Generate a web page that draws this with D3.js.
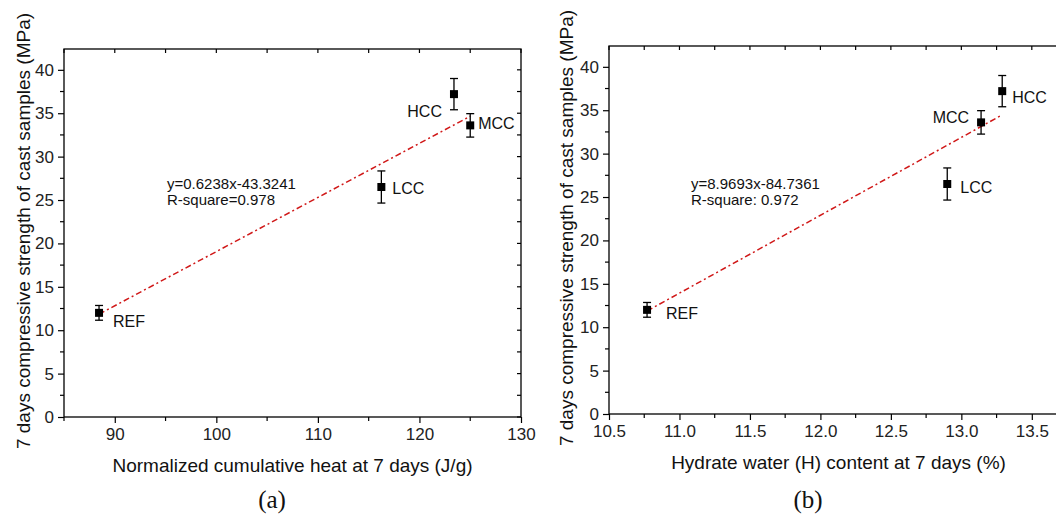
<!DOCTYPE html>
<html>
<head>
<meta charset="utf-8">
<script src="https://cdn.jsdelivr.net/npm/d3@7"></script>
<style>
  body { margin: 0; background: #fff; }
  svg { display: block; font-family: Arial, "Liberation Sans", sans-serif; }
</style>
</head>
<body>
<div id="chart"></div>
<script>
// sample names and 7-day strengths (shared by both panels)
const samples = ['REF', 'LCC', 'MCC', 'HCC']
const strength = [12.0, 26.5, 33.6, 37.2]
const strengthErr = [0.85, 1.85, 1.35, 1.8]

// panel (a): normalized cumulative heat
const heat = [88.45, 116.25, 125.0, 123.4]
const heatTicks = [90, 100, 110, 120, 130]
const heatFit = {slope: 0.6238, intercept: -43.3241}
const heatEq = ['y=0.6238x-43.3241', 'R-square=0.978']

// panel (b): hydrate water content
const water = [10.77, 12.9, 13.14, 13.29]
const waterTicks = [10.5, 11.0, 11.5, 12.0, 12.5, 13.0, 13.5]
const waterFit = {slope: 8.9693, intercept: -84.7361}
const waterEq = ['y=8.9693x-84.7361', 'R-square: 0.972']

const yTicks = [0, 5, 10, 15, 20, 25, 30, 35, 40]
const yTitle = '7 days compressive strength of cast samples (MPa)'

const width = 1056, height = 517

const svg = d3.select('#chart').append('svg')
    .attr('width', width)
    .attr('height', height)

function drawPanel(cfg) {
    const g = svg.append('g')
    const x = d3.scaleLinear().domain(cfg.xDomain).range([cfg.left, cfg.right])
    const y = d3.scaleLinear().domain([0, 42.4]).range([cfg.bottom, cfg.top])

    // minor steps
    const xMinor = d3.range(cfg.xDomain[0], cfg.xDomain[1] + 1e-9, cfg.xStep / 2)
    const yMinor = d3.range(0, 42.4, 2.5)

    // bottom axis
    const xAxis = d3.axisBottom(x).tickValues(cfg.xTicks).tickSize(6).tickPadding(5)
        .tickFormat(cfg.xFormat)
    const xg = g.append('g').attr('transform', `translate(0,${cfg.bottom})`).call(xAxis)
    xg.select('.domain').remove()
    g.append('g').selectAll('line').data(xMinor.filter(v => !cfg.xTicks.some(t => Math.abs(t - v) < 1e-6)))
        .join('line')
        .attr('x1', d => x(d)).attr('x2', d => x(d))
        .attr('y1', cfg.bottom).attr('y2', cfg.bottom + 4)
        .attr('stroke', '#000').attr('stroke-width', 1.2)

    // left axis
    const yAxis = d3.axisLeft(y).tickValues(yTicks).tickSize(6).tickPadding(4)
    const yg = g.append('g').attr('transform', `translate(${cfg.left},0)`).call(yAxis)
    yg.select('.domain').remove()
    g.append('g').selectAll('line').data(yMinor.filter(v => v % 5 !== 0))
        .join('line')
        .attr('x1', cfg.left - 4).attr('x2', cfg.left)
        .attr('y1', d => y(d)).attr('y2', d => y(d))
        .attr('stroke', '#000').attr('stroke-width', 1.2)

    g.selectAll('.tick line').attr('stroke-width', 1.2)
    g.selectAll('.tick text')
        .style('font-size', '17px')
        .attr('fill', '#222')

    // top ticks (inward)
    g.append('g').selectAll('line').data(xMinor)
        .join('line')
        .attr('x1', d => x(d)).attr('x2', d => x(d))
        .attr('y1', cfg.top).attr('y2', cfg.top + 4)
        .attr('stroke', '#000').attr('stroke-width', 1.2)

    // right ticks (inward)
    g.append('g').selectAll('line').data(yMinor)
        .join('line')
        .attr('x1', cfg.right - 4).attr('x2', cfg.right)
        .attr('y1', d => y(d)).attr('y2', d => y(d))
        .attr('stroke', '#000').attr('stroke-width', 1.2)

    // frame
    g.append('rect')
        .attr('x', cfg.left).attr('y', cfg.top)
        .attr('width', cfg.right - cfg.left).attr('height', cfg.bottom - cfg.top)
        .attr('fill', 'none').attr('stroke', '#000').attr('stroke-width', 1.3)

    // fit line
    const xs = cfg.xs
    const x0 = d3.min(xs), x1 = d3.max(xs)
    g.append('line')
        .attr('x1', x(x0)).attr('y1', y(cfg.fit.slope * x0 + cfg.fit.intercept))
        .attr('x2', x(x1)).attr('y2', y(cfg.fit.slope * x1 + cfg.fit.intercept))
        .attr('stroke', '#d01818').attr('stroke-width', 1.5)
        .attr('stroke-dasharray', '6,3,2,3')

    // error bars and markers
    const pts = samples.map((s, i) => ({name: s, x: xs[i], y: strength[i], e: strengthErr[i]}))
    const pg = g.append('g')
    pg.selectAll('line.err').data(pts).join('line').attr('class', 'err')
        .attr('x1', d => x(d.x)).attr('x2', d => x(d.x))
        .attr('y1', d => y(d.y - d.e)).attr('y2', d => y(d.y + d.e))
        .attr('stroke', '#000').attr('stroke-width', 1.3)
    pg.selectAll('line.capt').data(pts).join('line').attr('class', 'capt')
        .attr('x1', d => x(d.x) - 4).attr('x2', d => x(d.x) + 4)
        .attr('y1', d => y(d.y + d.e)).attr('y2', d => y(d.y + d.e))
        .attr('stroke', '#000').attr('stroke-width', 1.3)
    pg.selectAll('line.capb').data(pts).join('line').attr('class', 'capb')
        .attr('x1', d => x(d.x) - 4).attr('x2', d => x(d.x) + 4)
        .attr('y1', d => y(d.y - d.e)).attr('y2', d => y(d.y - d.e))
        .attr('stroke', '#000').attr('stroke-width', 1.3)
    pg.selectAll('rect').data(pts).join('rect')
        .attr('x', d => x(d.x) - 4).attr('y', d => y(d.y) - 4)
        .attr('width', 8).attr('height', 8)
        .attr('fill', '#000')

    // sample labels
    pg.selectAll('text').data(pts).join('text')
        .attr('x', d => x(d.x) + cfg.labelOff[d.name][0])
        .attr('y', d => y(d.y) + cfg.labelOff[d.name][1])
        .attr('text-anchor', d => cfg.labelOff[d.name][0] < 0 ? 'end' : 'start')
        .style('font-size', '16px')
        .attr('fill', '#111')
        .text(d => d.name)

    // equation
    g.append('text')
        .attr('x', cfg.eqPos[0]).attr('y', cfg.eqPos[1])
        .style('font-size', '15px').attr('fill', '#111')
        .selectAll('tspan').data(cfg.eq).join('tspan')
        .attr('x', cfg.eqPos[0])
        .attr('dy', (d, i) => i === 0 ? 0 : 16)
        .text(d => d)

    // axis titles
    g.append('text')
        .attr('x', (cfg.left + Math.min(cfg.right, width)) / 2 + cfg.xTitleShift)
        .attr('y', cfg.bottom + 55)
        .attr('text-anchor', 'middle')
        .style('font-size', '19px').attr('fill', '#111')
        .text(cfg.xTitle)

    g.append('text')
        .attr('transform', `translate(${cfg.yTitleX},${cfg.yTitleY}) rotate(-90)`)
        .attr('text-anchor', 'middle')
        .style('font-size', '19px').attr('fill', '#111')
        .text(yTitle)

    g.append('text')
        .attr('x', cfg.tagX).attr('y', 508)
        .attr('text-anchor', 'middle')
        .style('font-family', '"Liberation Serif", "Times New Roman", serif')
        .style('font-size', '25px').attr('fill', '#111')
        .text(cfg.tag)
}

drawPanel({
    left: 64, right: 521, top: 49, bottom: 417,
    xDomain: [85, 130], xTicks: heatTicks, xStep: 10,
    xFormat: d3.format('d'),
    xs: heat, fit: heatFit, eq: heatEq, eqPos: [167, 189],
    labelOff: {REF: [14, 14], LCC: [11, 7], MCC: [8, 4], HCC: [-12, 23]},
    xTitle: 'Normalized cumulative heat at 7 days (J/g)', xTitleShift: 0,
    yTitleX: 30, yTitleY: 231, tag: '(a)', tagX: 272
})

drawPanel({
    left: 609, right: 1060, top: 46, bottom: 414,
    xDomain: [10.5, 13.7], xTicks: waterTicks, xStep: 0.5,
    xFormat: d3.format('.1f'),
    xs: water, fit: waterFit, eq: waterEq, eqPos: [691, 189],
    labelOff: {REF: [19, 9], LCC: [13, 9], MCC: [-12, 1], HCC: [10, 12]},
    xTitle: 'Hydrate water (H) content at 7 days (%)', xTitleShift: 6,
    yTitleX: 573, yTitleY: 228, tag: '(b)', tagX: 808
})
</script>
</body>
</html>
